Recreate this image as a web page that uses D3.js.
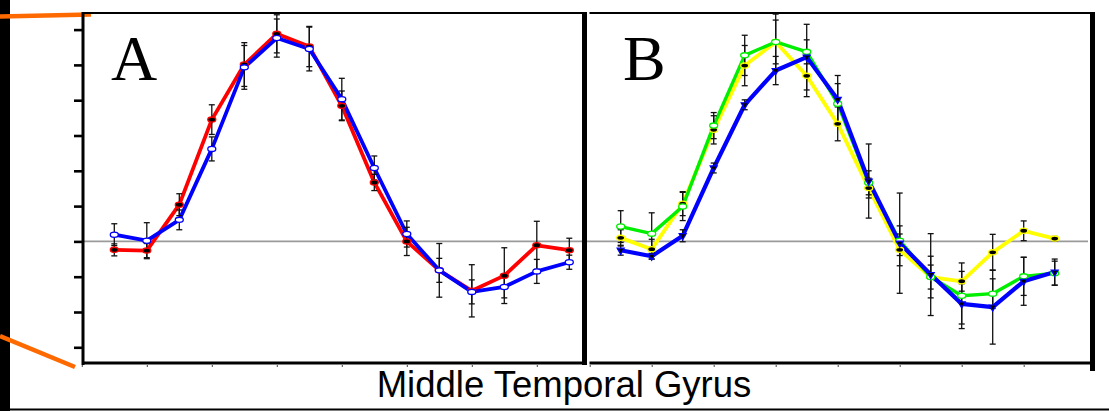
<!DOCTYPE html>
<html>
<head>
<meta charset="utf-8">
<title>Middle Temporal Gyrus</title>
<style>
  body { margin: 0; background: #fff; }
  svg { display: block; }
</style>
</head>
<body>
<script src="https://cdn.jsdelivr.net/npm/d3@7"></script>
<script>
// time points (s) and tick values
const timePoints = [0, 2, 4, 6, 8, 10, 12, 14, 16, 18, 20, 22, 24, 26, 28];
const xTicks = [-2, 2, 6, 10, 14, 18, 22, 26];
const yTicks = [-0.3, -0.2, -0.1, 0, 0.1, 0.2, 0.3, 0.4, 0.5, 0.6];

// panel A
const aRed     = [-0.024, -0.026, 0.104, 0.345, 0.501, 0.588, 0.552, 0.384, 0.167, 0.000, -0.082, -0.140, -0.097, -0.011, -0.025];
const aRedErr  = [0.017, 0.020, 0.031, 0.042, 0.062, 0.054, 0.057, 0.042, 0.023, 0.040, 0.034, 0.074, 0.079, 0.068, 0.034];
const aBlue    = [0.019, 0.002, 0.061, 0.262, 0.493, 0.576, 0.545, 0.403, 0.208, 0.021, -0.082, -0.143, -0.129, -0.085, -0.059];
const aBlueErr = [0.031, 0.051, 0.028, 0.034, 0.062, 0.054, 0.062, 0.059, 0.034, 0.037, 0.076, 0.034, 0.031, 0.034, 0.020];

// panel B
const bGreen     = [0.042, 0.022, 0.099, 0.328, 0.527, 0.565, 0.537, 0.390, 0.166, 0.002, -0.101, -0.154, -0.148, -0.099, -0.090];
const bGreenErr  = [0.045, 0.059, 0.040, 0.037, 0.057, 0.079, 0.034, 0.057, 0.034, 0.042, 0.059, 0.093, 0.042, 0.054, 0.034];
const bYellow    = [0.010, -0.022, 0.107, 0.316, 0.498, 0.565, 0.469, 0.333, 0.151, -0.024, -0.101, -0.113, -0.031, 0.030, 0.008];
const bYellowErr = [0.023, 0.028, 0.034, 0.040, 0.057, 0.062, 0.059, 0.048, 0.028, 0.045, 0.034, 0.028, 0.051, 0.028, 0.006];
const bBlue      = [-0.025, -0.042, 0.016, 0.208, 0.387, 0.484, 0.522, 0.402, 0.171, -0.005, -0.094, -0.177, -0.186, -0.113, -0.087];
const bBlueErr   = [0.014, 0.008, 0.017, 0.014, 0.014, 0.040, 0.093, 0.068, 0.105, 0.142, 0.116, 0.057, 0.105, 0.068, 0.037];

const W = 1109, H = 411;
const svg = d3.select("body").append("svg").attr("width", W).attr("height", H);

// shared y scale
const y = d3.scaleLinear().domain([-0.3, 0.6]).range([347.3, 29.6]);

const panels = [
  { label: "A", x0: 83, x1: 584.5, labelX: 111,
    x: d3.scaleLinear().domain([-2, 28]).range([81.8, 569.3]),
    series: [
      { vals: aRed,  err: aRedErr,  color: "#ff0000", width: 3.8, marker: "filled" },
      { vals: aBlue, err: aBlueErr, color: "#0000ff", width: 3.8, marker: "open" }
    ] },
  { label: "B", x0: 589.5, x1: 1092.5, labelX: 623,
    x: d3.scaleLinear().domain([-2, 28]).range([589.7, 1054.7]),
    series: [
      { vals: bYellow, err: bYellowErr, color: "#ffff00", width: 3.8, marker: "filled" },
      { vals: bGreen,  err: bGreenErr,  color: "#00ee00", width: 3.4, marker: "open" },
      { vals: bBlue,   err: bBlueErr,   color: "#0000ff", width: 4.2, marker: "tri" }
    ] }
];

// outer decorations
svg.append("rect").attr("x", 0).attr("y", 0).attr("width", 10).attr("height", H).attr("fill", "#000");
svg.append("line").attr("x1", 10).attr("x2", W).attr("y1", 409.5).attr("y2", 409.5)
  .attr("stroke", "#000").attr("stroke-width", 2);
svg.append("line").attr("x1", 0).attr("y1", 16.5).attr("x2", 91).attr("y2", 14.5)
  .attr("stroke", "#ff6a00").attr("stroke-width", 4.5);
svg.append("line").attr("x1", 0).attr("y1", 336).attr("x2", 75).attr("y2", 367)
  .attr("stroke", "#ff6a00").attr("stroke-width", 4.5);

// zero line across both panels
svg.append("line").attr("x1", 83).attr("x2", 1088).attr("y1", y(0)).attr("y2", y(0))
  .attr("stroke", "#9a9a9a").attr("stroke-width", 1.6);

panels.forEach(p => {
  const g = svg.append("g");
  const x = p.x;

  // frame: top, right, bottom
  g.append("line").attr("x1", p.x0).attr("x2", p.x1).attr("y1", 13).attr("y2", 13)
    .attr("stroke", "#000").attr("stroke-width", 2);
  g.append("line").attr("x1", p.x1).attr("x2", p.x1).attr("y1", 12).attr("y2", p.label === "B" ? 371 : 365)
    .attr("stroke", "#000").attr("stroke-width", 5);

  // bottom axis
  const bx = g.append("g").attr("transform", "translate(0,363)")
    .call(d3.axisBottom(x).tickValues(xTicks).tickFormat("").tickSize(4).tickSizeOuter(0));
  bx.select(".domain").attr("d", `M${p.x0},0H${p.x1}`).attr("stroke-width", 3);
  bx.selectAll(".tick line").attr("stroke", "#444").attr("stroke-width", 1).attr("y1", 2);

  // series
  p.series.forEach(s => {
    const pts = timePoints.map((t, i) => ({ t: t, v: s.vals[i], e: s.err[i] }));
    g.append("path").datum(pts)
      .attr("fill", "none").attr("stroke", s.color).attr("stroke-width", s.width)
      .attr("stroke-linejoin", "round")
      .attr("d", d3.line().x(d => x(d.t)).y(d => y(d.v)));
    s.pts = pts;
  });

  // error bars
  p.series.forEach(s => {
    const eb = g.append("g").attr("stroke", "#111").attr("stroke-width", 1.3);
    s.pts.forEach(d => {
      const cx = x(d.t), top = y(d.v + d.e), bot = y(d.v - d.e);
      eb.append("line").attr("x1", cx).attr("x2", cx).attr("y1", top).attr("y2", bot);
      eb.append("line").attr("x1", cx - 3).attr("x2", cx + 3).attr("y1", top).attr("y2", top);
      eb.append("line").attr("x1", cx - 3).attr("x2", cx + 3).attr("y1", bot).attr("y2", bot);
    });
  });

  // markers
  p.series.forEach(s => {
    const mg = g.append("g");
    if (s.marker === "tri") {
      mg.selectAll("path").data(s.pts).enter().append("path")
        .attr("d", d3.symbol(d3.symbolTriangle, 22)())
        .attr("transform", d => `translate(${x(d.t)},${y(d.v)}) rotate(180)`)
        .attr("fill", "#000").attr("stroke", s.color).attr("stroke-width", 1.2);
    } else {
      mg.selectAll("ellipse").data(s.pts).enter().append("ellipse")
        .attr("cx", d => x(d.t)).attr("cy", d => y(d.v))
        .attr("rx", 4).attr("ry", 2.6)
        .attr("fill", s.marker === "filled" ? "#000" : "#fff")
        .attr("stroke", s.color).attr("stroke-width", 1.3);
    }
  });

  // panel letter
  g.append("text").attr("x", p.labelX).attr("y", 80)
    .attr("font-family", "'Liberation Serif', 'Times New Roman', serif")
    .attr("font-size", 64).attr("fill", "#000").text(p.label);
});

// left axis of panel A
const ly = svg.append("g").attr("transform", "translate(83,0)")
  .call(d3.axisLeft(y).tickValues(yTicks).tickFormat("").tickSize(9).tickSizeOuter(0));
ly.select(".domain").attr("d", "M0,12V365").attr("stroke-width", 3);
ly.selectAll(".tick line").attr("stroke-width", 2.6);

// caption
svg.append("text").attr("x", 564).attr("y", 397)
  .attr("text-anchor", "middle")
  .attr("font-family", "'Liberation Sans', Arial, sans-serif")
  .attr("font-size", 36.5).attr("fill", "#000")
  .text("Middle Temporal Gyrus");
</script>
</body>
</html>
